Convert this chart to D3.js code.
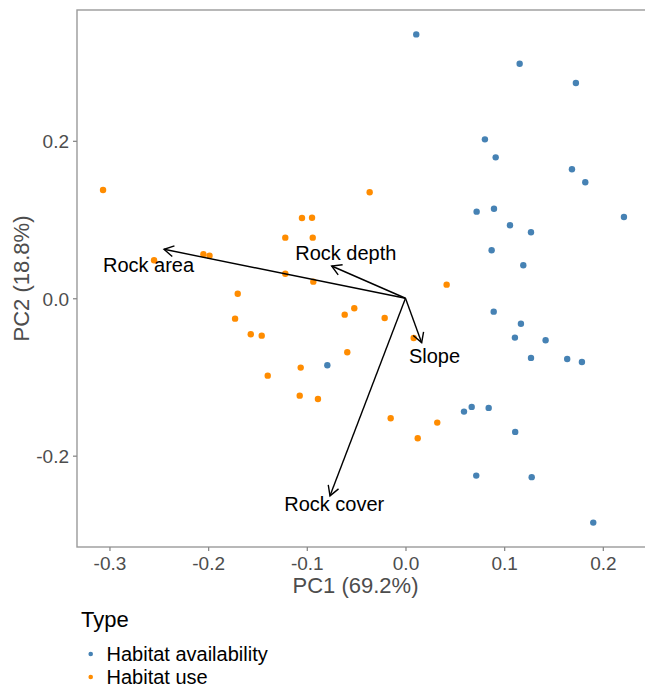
<!DOCTYPE html>
<html>
<head>
<meta charset="utf-8">
<script src="https://cdnjs.cloudflare.com/ajax/libs/d3/7.8.5/d3.min.js"></script>
<style>
    body { margin: 0; background: #fff; }
    svg { display: block; font-family: "Liberation Sans", Arial, sans-serif; }
</style>
</head>
<body>
<svg id="graphic"></svg>
<script>

// PCA scores, habitat availability (blue)
const availPC1 = [0.0109, 0.1157, 0.1727, 0.0805, 0.0914, 0.1687, 0.1822, 0.0721, 0.0897, 0.2214,
    0.1059, 0.1272, 0.0873, 0.1194, -0.0792, 0.0894, 0.1170, 0.1109, 0.1420, 0.1272,
    0.1639, 0.1788, 0.0593, 0.0671, 0.0843, 0.1112, 0.0717, 0.1279, 0.1903]
const availPC2 = [0.3352, 0.2979, 0.2734, 0.2019, 0.1790, 0.1638, 0.1473, 0.1100, 0.1138, 0.1032,
    0.0927, 0.0838, 0.0610, 0.0419, -0.0851, -0.0170, -0.0323, -0.0500, -0.0533, -0.0758,
    -0.0771, -0.0809, -0.1440, -0.1380, -0.1393, -0.1698, -0.2253, -0.2273, -0.2850]

// PCA scores, habitat use (orange)
const usePC1 = [-0.3065, -0.1049, -0.0947, -0.1218, -0.0940, -0.2048, -0.1986, -0.2548, -0.1218, -0.0934,
    -0.0363, 0.0417, -0.1700, -0.1727, -0.1568, -0.1457, -0.1396, -0.1062, -0.1072, -0.0887,
    -0.0616, -0.0519, -0.0211, 0.0083, -0.0590, -0.0150, 0.0322, 0.0124]
const usePC2 = [0.1375, 0.1020, 0.1023, 0.0770, 0.0770, 0.0559, 0.0541, 0.0483, 0.0312, 0.0211,
    0.1346, 0.0173, 0.0058, -0.0259, -0.0457, -0.0475, -0.0983, -0.0881, -0.1237, -0.1279,
    -0.0208, -0.0127, -0.0250, -0.0504, -0.0686, -0.1524, -0.1580, -0.1778]

// variable loadings (arrows) and where their labels sit
const varNames = ["Rock area", "Rock depth", "Slope", "Rock cover"]
const varPC1 = [-0.2447, -0.0748, 0.0164, -0.0765]
const varPC2 = [0.0622, 0.0410, -0.0564, -0.2510]
const labelPC1 = [-0.2604, -0.0605, 0.0294, -0.0722]
const labelPC2 = [0.0423, 0.0581, -0.0726, -0.2608]

const typeNames = ["Habitat availability", "Habitat use"]
const typeColors = ["#4682B4", "#FF8C00"]

const xTicks = [-0.3, -0.2, -0.1, 0.0, 0.1, 0.2]
const yTicks = [-0.2, 0.0, 0.2]

showChart()

function showChart(){

    const w = 645
    const h = 688
    const left = 77, right = 650, top = 10, bottom = 547

    const points = availPC1.map((d, i) => ({x: d, y: availPC2[i], type: 0}))
        .concat(usePC1.map((d, i) => ({x: d, y: usePC2[i], type: 1})))

    // ggplot style 5% expansion of the data range
    const expand = ext => {
        const pad = (ext[1] - ext[0]) * 0.05
        return [ext[0] - pad, ext[1] + pad]
    }

    const xScale = d3.scaleLinear()
        .domain(expand(d3.extent(points, d => d.x)))
        .range([left, right])

    const yScale = d3.scaleLinear()
        .domain(expand(d3.extent(points, d => d.y)))
        .range([bottom, top])

    const graphic = d3.select("#graphic")
        .attr("width", w)
        .attr("height", h)

    // panel border
    graphic.append("rect")
        .attr("x", left)
        .attr("y", top)
        .attr("width", right - left)
        .attr("height", bottom - top)
        .attr("fill", "none")
        .attr("stroke", "#9a9a9a")
        .attr("stroke-width", 1.4)

    // axes, plain hyphen for negatives like R does
    const fmt = d => d.toFixed(1)

    const axisBottom = d3.axisBottom(xScale)
        .tickValues(xTicks)
        .tickFormat(fmt)
        .tickSize(4)
        .tickPadding(4)

    const axisLeft = d3.axisLeft(yScale)
        .tickValues(yTicks)
        .tickFormat(fmt)
        .tickSize(4)
        .tickPadding(4)

    const gx = graphic.append("g")
        .attr("id", "x-axis")
        .attr("transform", `translate(0, ${bottom})`)
        .call(axisBottom)

    const gy = graphic.append("g")
        .attr("id", "y-axis")
        .attr("transform", `translate(${left}, 0)`)
        .call(axisLeft)

    for (const g of [gx, gy]) {
        g.select(".domain").remove()
        g.selectAll(".tick line").attr("stroke", "#8a8a8a").attr("stroke-width", 1.3)
        g.selectAll(".tick text")
            .attr("fill", "#4d4d4d")
            .style("font-size", "19px")
            .style("font-family", "'Liberation Sans', Arial, sans-serif")
    }
    gx.selectAll(".tick text").attr("dy", "0.78em")
    gy.selectAll(".tick text").attr("dy", "0.36em")

    // axis titles
    graphic.append("text")
        .attr("x", 355.5)
        .attr("y", 593)
        .attr("text-anchor", "middle")
        .attr("fill", "#4d4d4d")
        .style("font-size", "22px")
        .text("PC1 (69.2%)")

    graphic.append("text")
        .attr("transform", `translate(28.5, ${(top + bottom) / 2}) rotate(-90)`)
        .attr("text-anchor", "middle")
        .attr("fill", "#4d4d4d")
        .style("font-size", "22px")
        .text("PC2 (18.8%)")

    // points
    graphic.append("g")
        .selectAll("circle")
        .data(points)
        .enter()
        .append("circle")
        .attr("cx", d => xScale(d.x))
        .attr("cy", d => yScale(d.y))
        .attr("r", 3.2)
        .attr("fill", d => typeColors[d.type])

    // loading arrows with open heads
    const arrows = varNames.map((name, i) => ({
        name: name,
        x: varPC1[i], y: varPC2[i],
        lx: labelPC1[i], ly: labelPC2[i]
    }))

    const headPath = d => {
        const x0 = xScale(0), y0 = yScale(0)
        const x1 = xScale(d.x), y1 = yScale(d.y)
        const a = Math.atan2(y1 - y0, x1 - x0)
        const len = 11, spread = Math.PI / 6
        const p1 = [x1 - len * Math.cos(a - spread), y1 - len * Math.sin(a - spread)]
        const p2 = [x1 - len * Math.cos(a + spread), y1 - len * Math.sin(a + spread)]
        return `M${p1[0]},${p1[1]}L${x1},${y1}L${p2[0]},${p2[1]}`
    }

    const ag = graphic.append("g")

    ag.selectAll("line")
        .data(arrows)
        .enter()
        .append("line")
        .attr("x1", xScale(0))
        .attr("y1", yScale(0))
        .attr("x2", d => xScale(d.x))
        .attr("y2", d => yScale(d.y))
        .attr("stroke", "#000")
        .attr("stroke-width", 1.4)

    ag.selectAll("path")
        .data(arrows)
        .enter()
        .append("path")
        .attr("d", headPath)
        .attr("fill", "none")
        .attr("stroke", "#000")
        .attr("stroke-width", 1.4)

    ag.selectAll("text")
        .data(arrows)
        .enter()
        .append("text")
        .attr("x", d => xScale(d.lx))
        .attr("y", d => yScale(d.ly))
        .attr("dy", "0.36em")
        .attr("text-anchor", "middle")
        .attr("fill", "#000")
        .style("font-size", "20px")
        .text(d => d.name)

    // legend
    const legend = graphic.append("g")

    legend.append("text")
        .attr("x", 81)
        .attr("y", 627)
        .attr("fill", "#000")
        .style("font-size", "22px")
        .text("Type")

    const items = legend.selectAll(".item")
        .data(typeNames)
        .enter()
        .append("g")
        .attr("class", "item")
        .attr("transform", (d, i) => `translate(0, ${654 + i * 23})`)

    items.append("circle")
        .attr("cx", 90.7)
        .attr("cy", 0)
        .attr("r", 2.3)
        .attr("fill", (d, i) => typeColors[i])

    items.append("text")
        .attr("x", 106.5)
        .attr("y", 0)
        .attr("dy", "0.36em")
        .attr("fill", "#000")
        .style("font-size", "20px")
        .text(d => d)
}
</script>
</body>
</html>
